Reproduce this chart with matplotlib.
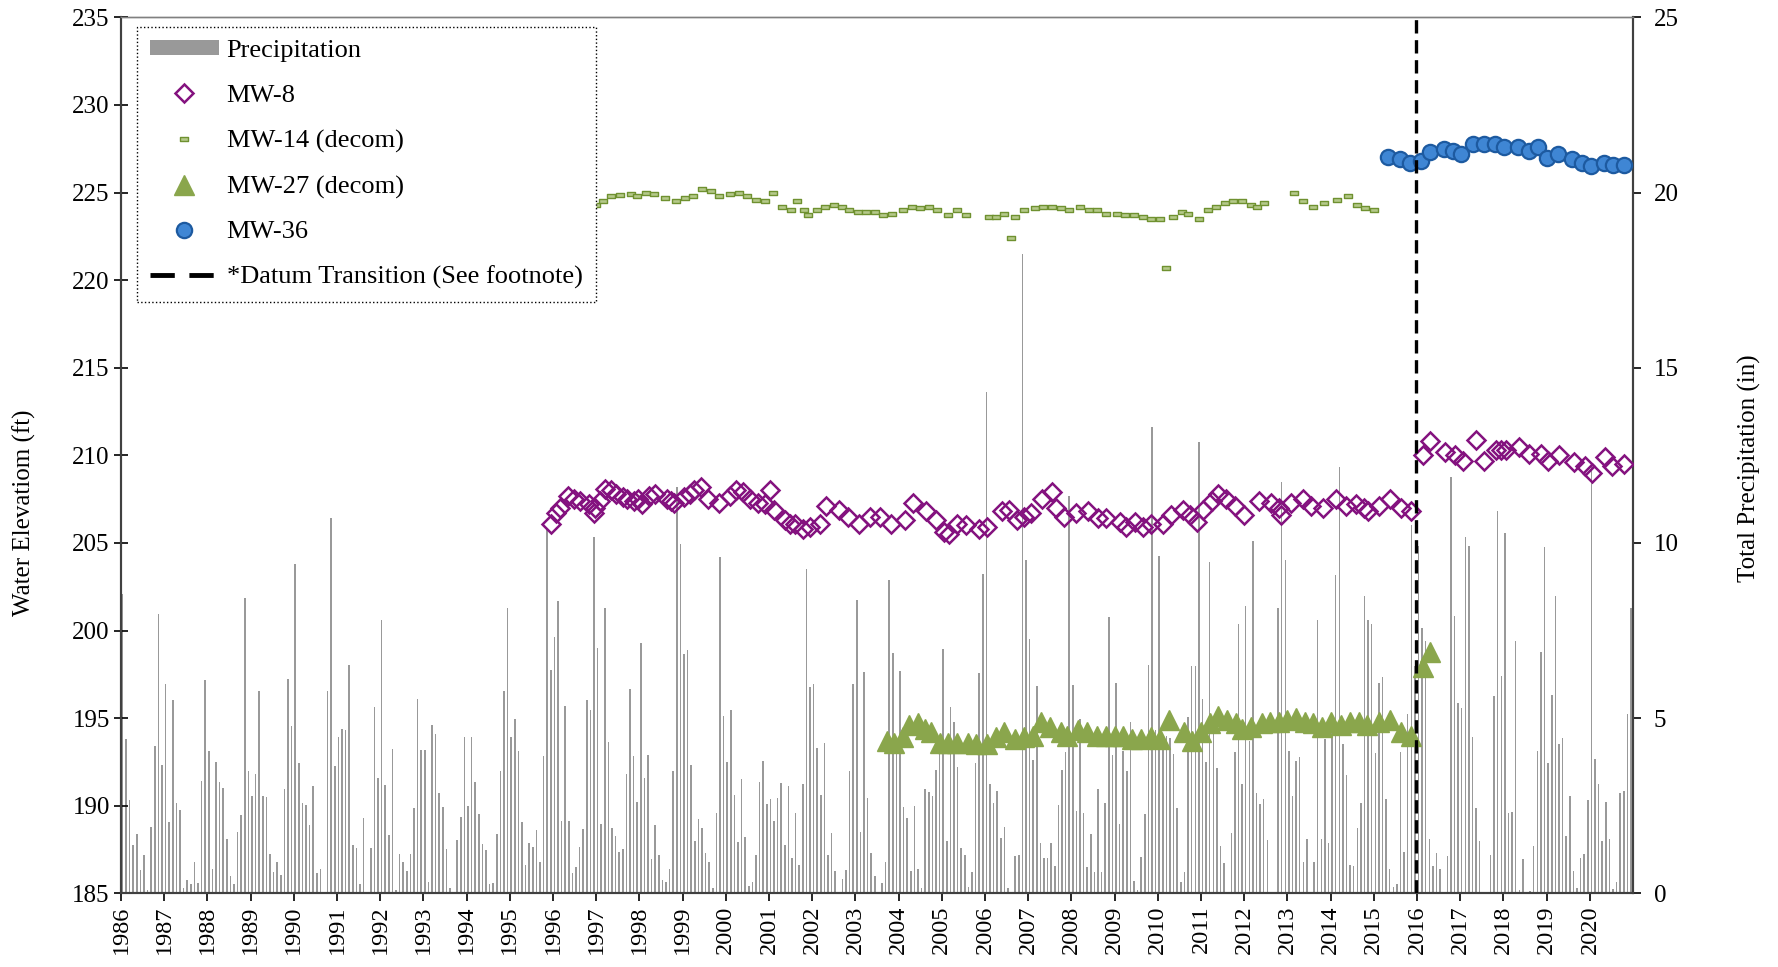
import matplotlib
matplotlib.use("Agg")
import matplotlib.pyplot as plt
import numpy as np
from matplotlib.lines import Line2D
from matplotlib.patches import Patch
from matplotlib.path import Path

plt.rcParams['font.family'] = ['Liberation Serif', 'DejaVu Serif']

### Data ###

years = list(range(1986, 2021))

# monthly precipitation (in), Jan..Dec per year
precip_by_year = {
    1986: [8.55, 4.40, 2.67, 1.37, 1.70, 0.67, 1.10, 0.10, 1.88, 4.21, 7.98, 3.66],
    1987: [5.97, 2.04, 5.52, 2.59, 2.37, 0.14, 0.38, 0.27, 0.90, 0.29, 3.21, 6.10],
    1988: [4.06, 0.70, 3.74, 3.19, 3.00, 1.54, 0.50, 0.27, 1.74, 2.23, 8.43, 3.48],
    1989: [2.78, 3.41, 5.78, 2.78, 2.76, 1.11, 0.62, 0.88, 0.52, 2.97, 6.12, 4.78],
    1990: [9.41, 3.71, 2.57, 2.52, 1.96, 3.05, 0.57, 0.69, 0.05, 5.78, 10.70, 3.62],
    1991: [4.46, 4.68, 4.66, 6.52, 1.38, 1.28, 0.27, 2.16, 0.02, 1.30, 5.32, 3.30],
    1992: [7.81, 3.09, 1.67, 4.11, 0.10, 1.12, 0.88, 0.65, 1.13, 2.44, 5.56, 4.08],
    1993: [4.08, 0.33, 4.80, 4.54, 2.86, 2.47, 1.27, 0.14, 0.02, 1.52, 2.18, 4.47],
    1994: [2.49, 4.47, 3.17, 2.27, 1.41, 1.24, 0.27, 0.29, 1.69, 3.50, 5.78, 8.14],
    1995: [4.47, 4.97, 4.07, 2.04, 0.81, 1.44, 1.32, 1.80, 0.90, 3.92, 10.38, 6.36],
    1996: [7.32, 8.34, 2.05, 5.36, 2.06, 0.59, 0.75, 1.31, 1.84, 5.52, 5.22, 10.17],
    1997: [7.00, 1.97, 8.14, 4.31, 1.86, 1.63, 1.18, 1.26, 3.40, 5.83, 3.92, 2.62],
    1998: [7.14, 3.29, 3.94, 0.97, 1.96, 1.10, 0.38, 0.33, 0.69, 3.48, 11.60, 9.97],
    1999: [6.83, 6.95, 3.65, 1.48, 2.11, 1.85, 1.16, 0.90, 0.15, 2.29, 9.60, 5.06],
    2000: [3.76, 5.24, 2.81, 1.47, 3.27, 1.60, 0.21, 0.31, 1.10, 3.17, 3.78, 2.55],
    2001: [2.70, 2.06, 2.72, 3.15, 1.38, 3.05, 1.01, 2.30, 0.81, 3.11, 9.26, 5.90],
    2002: [5.97, 4.16, 2.81, 4.29, 1.10, 1.71, 0.63, 0.02, 0.41, 0.66, 3.50, 5.97],
    2003: [8.38, 1.75, 6.33, 2.73, 1.14, 0.50, 0.05, 0.30, 0.88, 8.95, 6.86, 3.97],
    2004: [6.35, 2.45, 2.14, 0.65, 2.50, 0.70, 0.15, 2.99, 2.89, 2.78, 3.52, 4.36],
    2005: [6.98, 1.50, 5.31, 4.89, 3.61, 1.30, 1.10, 0.17, 0.62, 3.73, 6.30, 9.10],
    2006: [14.30, 3.12, 2.57, 2.92, 1.59, 1.90, 0.14, 0.02, 1.07, 1.10, 18.25, 9.50],
    2007: [7.27, 3.81, 5.92, 1.43, 1.00, 1.00, 1.43, 0.78, 2.52, 3.52, 4.02, 11.33],
    2008: [5.95, 2.35, 4.98, 2.30, 0.76, 1.70, 0.61, 2.98, 0.61, 2.59, 7.90, 3.96],
    2009: [6.00, 1.97, 4.05, 3.50, 4.89, 0.35, 0.10, 1.03, 2.27, 6.52, 13.30, 4.67],
    2010: [9.63, 4.38, 4.48, 4.43, 3.98, 2.43, 0.33, 0.62, 5.02, 6.50, 6.50, 12.88],
    2011: [5.56, 3.75, 9.47, 5.07, 3.57, 1.35, 0.86, 0.05, 1.71, 4.04, 7.68, 3.12],
    2012: [8.20, 4.34, 10.06, 2.86, 2.54, 2.70, 1.52, 0.02, 0.02, 8.14, 11.75, 9.50],
    2013: [4.05, 2.78, 3.78, 3.89, 0.89, 1.54, 0.05, 0.88, 7.81, 1.54, 4.40, 1.43],
    2014: [4.71, 9.09, 12.16, 4.27, 3.38, 0.80, 0.78, 1.85, 2.59, 8.48, 7.81, 7.69],
    2015: [4.00, 6.00, 6.16, 2.70, 0.69, 0.17, 0.27, 4.04, 1.17, 5.11, 10.50, 6.50],
    2016: [9.90, 7.57, 7.19, 1.54, 0.78, 1.14, 0.70, 0.02, 1.07, 11.89, 7.92, 5.43],
    2017: [5.30, 10.16, 9.92, 4.46, 2.44, 1.50, 0.02, 0.02, 1.10, 5.62, 10.92, 6.19],
    2018: [10.29, 2.29, 2.32, 7.19, 0.10, 0.98, 0.02, 0.07, 1.36, 4.05, 6.89, 9.88],
    2019: [3.73, 5.66, 8.50, 4.27, 4.44, 1.64, 2.79, 0.65, 0.16, 1.01, 1.11, 2.67],
    2020: [12.19, 3.84, 3.12, 1.50, 2.60, 1.54, 0.11, 0.31, 2.86, 2.93, 5.11, 8.14],
}

# MW-8 (ft)
mw8_t = [1995.96, 1996.08, 1996.17, 1996.35, 1996.48, 1996.63, 1996.84, 1996.94, 1996.98,
         1997.10, 1997.20, 1997.35, 1997.45, 1997.61, 1997.71, 1997.87, 1997.97, 1998.06,
         1998.22, 1998.36, 1998.64, 1998.73, 1998.80, 1999.04, 1999.17, 1999.27, 1999.42,
         1999.58, 1999.85, 2000.10, 2000.23, 2000.39, 2000.55, 2000.74, 2000.90, 2001.02,
         2001.11, 2001.36, 2001.48, 2001.60, 2001.79, 2001.96, 2002.17, 2002.32, 2002.63,
         2002.82, 2003.09, 2003.33, 2003.56, 2003.83, 2004.14, 2004.33, 2004.64, 2004.87,
         2005.06, 2005.17, 2005.36, 2005.55, 2005.86, 2006.05, 2006.40, 2006.56, 2006.75,
         2006.91, 2007.06, 2007.33, 2007.55, 2007.64, 2007.83, 2008.10, 2008.38, 2008.61,
         2008.81, 2009.12, 2009.27, 2009.46, 2009.66, 2009.85, 2010.12, 2010.31, 2010.58,
         2010.74, 2010.90, 2011.05, 2011.25, 2011.40, 2011.58, 2011.78, 2012.00, 2012.35,
         2012.62, 2012.81, 2012.85, 2013.08, 2013.35, 2013.55, 2013.82, 2014.13, 2014.36,
         2014.59, 2014.78, 2014.86, 2015.13, 2015.38, 2015.63, 2015.86,
         2016.14, 2016.29, 2016.64, 2016.87, 2017.06, 2017.37, 2017.54, 2017.83, 2017.94,
         2018.05, 2018.36, 2018.59, 2018.86, 2019.02, 2019.28, 2019.63, 2019.88, 2020.05,
         2020.36, 2020.52, 2020.79]
mw8_v = [206.1, 206.7, 207.0, 207.7, 207.5, 207.4, 207.2, 206.7, 207.0,
         207.4, 208.1, 208.0, 207.8, 207.6, 207.5, 207.4, 207.5, 207.2,
         207.7, 207.8, 207.5, 207.4, 207.3, 207.6, 207.8, 208.0, 208.2,
         207.5, 207.3, 207.7, 208.0, 207.9, 207.5, 207.3, 207.2, 208.0,
         206.9, 206.3, 206.1, 206.1, 205.8, 205.9, 206.1, 207.1, 206.9,
         206.5, 206.1, 206.5, 206.5, 206.1, 206.3, 207.3, 206.8, 206.3,
         205.6, 205.5, 206.1, 206.0, 205.8, 205.9, 206.8, 206.9, 206.3,
         206.5, 206.7, 207.5, 207.9, 207.0, 206.5, 206.7, 206.8, 206.4,
         206.4, 206.2, 205.9, 206.2, 205.9, 206.1, 206.1, 206.6, 206.9,
         206.6, 206.2, 206.9, 207.4, 207.8, 207.5, 207.1, 206.6, 207.4,
         207.3, 207.0, 206.6, 207.3, 207.5, 207.1, 207.0, 207.5, 207.1,
         207.2, 207.0, 206.8, 207.1, 207.5, 207.0, 206.8,
         210.0, 210.8, 210.2, 210.0, 209.7, 210.9, 209.7, 210.3, 210.3,
         210.3, 210.5, 210.1, 210.1, 209.7, 210.0, 209.6, 209.4, 209.0,
         209.9, 209.4, 209.5]

# MW-14 (decom) (ft)
mw14_t = [1997.00, 1997.15, 1997.35, 1997.55, 1997.80, 1997.95, 1998.15, 1998.35, 1998.60,
          1998.85, 1999.05, 1999.25, 1999.45, 1999.65, 1999.85, 2000.10, 2000.30, 2000.50,
          2000.70, 2000.90, 2001.10, 2001.30, 2001.50, 2001.65, 2001.80, 2001.90, 2002.10,
          2002.30, 2002.50, 2002.70, 2002.85, 2003.05, 2003.25, 2003.45, 2003.65, 2003.85,
          2004.10, 2004.30, 2004.50, 2004.70, 2004.90, 2005.15, 2005.35, 2005.55, 2006.10,
          2006.25, 2006.45, 2006.60, 2006.70, 2006.90, 2007.15, 2007.35, 2007.55, 2007.75,
          2007.95, 2008.20, 2008.40, 2008.60, 2008.80, 2009.05, 2009.25, 2009.45, 2009.65,
          2009.85, 2010.05, 2010.20, 2010.35, 2010.55, 2010.70, 2010.95, 2011.15, 2011.35,
          2011.55, 2011.75, 2011.95, 2012.15, 2012.30, 2012.45, 2013.15, 2013.35, 2013.60,
          2013.85, 2014.15, 2014.40, 2014.60, 2014.80, 2015.00]
mw14_v = [224.3, 224.5, 224.8, 224.85, 224.9, 224.8, 225.0, 224.9, 224.7,
          224.5, 224.7, 224.8, 225.2, 225.1, 224.8, 224.9, 225.0, 224.8,
          224.6, 224.5, 225.0, 224.2, 224.0, 224.5, 224.0, 223.7, 224.0,
          224.2, 224.3, 224.2, 224.0, 223.9, 223.9, 223.9, 223.7, 223.8,
          224.0, 224.2, 224.1, 224.2, 224.0, 223.7, 224.0, 223.7, 223.6,
          223.6, 223.8, 222.4, 223.6, 224.0, 224.1, 224.2, 224.2, 224.1,
          224.0, 224.2, 224.0, 224.0, 223.8, 223.8, 223.7, 223.7, 223.6,
          223.5, 223.5, 220.7, 223.6, 223.9, 223.8, 223.5, 224.0, 224.2,
          224.4, 224.5, 224.5, 224.3, 224.2, 224.4, 225.0, 224.5, 224.2,
          224.4, 224.6, 224.8, 224.3, 224.1, 224.0]

# MW-27 (decom) (ft)
mw27_t = [2003.73, 2003.90, 2004.10, 2004.25, 2004.45, 2004.60, 2004.75, 2004.95, 2005.15,
          2005.35, 2005.60, 2005.80, 2006.05, 2006.25, 2006.45, 2006.70, 2006.90, 2007.10,
          2007.30, 2007.50, 2007.75, 2007.90, 2008.15, 2008.35, 2008.60, 2008.80, 2009.00,
          2009.20, 2009.40, 2009.60, 2009.85, 2010.05, 2010.25, 2010.60, 2010.80, 2011.00,
          2011.20, 2011.40, 2011.60, 2011.80, 2011.95, 2012.15, 2012.40, 2012.60, 2012.80,
          2013.00, 2013.20, 2013.40, 2013.60, 2013.80, 2014.00, 2014.25, 2014.45, 2014.65,
          2014.85, 2015.13, 2015.38, 2015.63, 2015.86, 2016.14, 2016.29]
mw27_v = [193.7, 193.6, 193.9, 194.6, 194.75, 194.4, 194.2, 193.6, 193.6,
          193.6, 193.6, 193.5, 193.5, 193.9, 194.2, 193.8, 193.9, 194.0,
          194.8, 194.5, 194.2, 194.0, 194.3, 194.2, 194.0, 194.0, 194.0,
          194.0, 193.8, 193.8, 193.9, 193.8, 194.9, 194.2, 193.7, 194.2,
          194.7, 195.1, 194.9, 194.7, 194.4, 194.5, 194.7, 194.8, 194.8,
          194.9, 195.0, 194.8, 194.7, 194.5, 194.8, 194.6, 194.8, 194.8,
          194.6, 194.8, 194.9, 194.2, 194.0, 197.9, 198.75]

# MW-36 (ft)
mw36_t = [2015.33, 2015.60, 2015.84, 2016.10, 2016.29, 2016.63, 2016.84, 2017.02, 2017.30,
          2017.55, 2017.80, 2018.02, 2018.33, 2018.60, 2018.80, 2019.00, 2019.27, 2019.58,
          2019.82, 2020.03, 2020.32, 2020.53, 2020.79]
mw36_v = [227.06, 226.9, 226.7, 226.8, 227.3, 227.5, 227.4, 227.2, 227.8,
          227.8, 227.8, 227.6, 227.6, 227.4, 227.6, 227.0, 227.2, 226.9,
          226.7, 226.5, 226.7, 226.6, 226.6]

datum_year = 2015.97

### Plot ###

month_x = []
month_p = []
for y in years:
    for m, p in enumerate(precip_by_year[y]):
        month_x.append(y + (m + 0.4) / 12.0)
        month_p.append(p)

fig = plt.figure(figsize=(17.78, 9.67), dpi=100)
ax = fig.add_axes([0.068, 0.0762, 0.8505, 0.9058])
ax2 = ax.twinx()

ax2.bar(month_x, month_p, width=0.036, color='#999999', linewidth=0)
ax2.set_ylim(0, 25)
ax2.set_yticks(np.arange(0, 26, 5))

ax.set_zorder(ax2.get_zorder() + 1)
ax.patch.set_visible(False)

# thin dash marker for MW-14
dash_marker = Path([[-1, -0.45], [1, -0.45], [1, 0.45], [-1, 0.45], [-1, -0.45]],
                   [Path.MOVETO, Path.LINETO, Path.LINETO, Path.LINETO, Path.CLOSEPOLY])

ax.plot(mw14_t, mw14_v, ls='none', marker=dash_marker, ms=6, mfc='#b5c98a',
        mec='#6f9130', mew=1.0, zorder=3)
ax.plot(mw27_t, mw27_v, ls='none', marker='^', ms=14, mfc='#8aa64c',
        mec='#8aa64c', zorder=3)
ax.plot(mw8_t, mw8_v, ls='none', marker='D', ms=9, mfc='none',
        mec='#84127f', mew=1.8, zorder=4)
ax.plot(mw36_t, mw36_v, ls='none', marker='o', ms=11, mfc='#3f86d4',
        mec='#1d5aa0', mew=1.6, zorder=4)
ax.axvline(datum_year, color='black', lw=2.4, ls=(0, (4, 2)), zorder=6)

ax.set_xlim(1986, 2021)
ax.set_ylim(185, 235)
ax.set_yticks(np.arange(185, 236, 5))
ax.set_xticks(years)
ax.set_xticklabels([str(y) for y in years], rotation=90)

ax.tick_params(axis='x', labelsize=17.5, length=6, width=1.2, pad=3)
ax.tick_params(axis='y', labelsize=18, direction='inout', length=10, width=1.2, pad=3)
ax2.tick_params(axis='y', labelsize=18, length=6, width=1.2, pad=9)

for a in (ax, ax2):
    a.spines['left'].set_color('#404040')
    a.spines['left'].set_linewidth(1.5)
    a.spines['right'].set_color('#404040')
    a.spines['right'].set_linewidth(1.5)
    a.spines['bottom'].set_color('#404040')
    a.spines['bottom'].set_linewidth(1.5)
    a.spines['top'].set_color('#808080')
    a.spines['top'].set_linewidth(1.0)

ax.set_ylabel('Water Elevatiom (ft)', fontsize=18)
ax.yaxis.set_label_coords(-0.056, 0.435)
ax2.set_ylabel('Total Precipitation (in)', fontsize=18)
ax2.yaxis.set_label_coords(1.069, 0.485)

handles = [
    Patch(facecolor='#999999', edgecolor='none', label='Precipitation'),
    Line2D([], [], ls='none', marker='D', ms=9, mfc='none', mec='#84127f', mew=1.8, label='MW-8'),
    Line2D([], [], ls='none', marker=dash_marker, ms=6, mfc='#b5c98a', mec='#6f9130', mew=1.0,
           label='MW-14 (decom)'),
    Line2D([], [], ls='none', marker='^', ms=14, mfc='#8aa64c', mec='#8aa64c', label='MW-27 (decom)'),
    Line2D([], [], ls='none', marker='o', ms=11, mfc='#3f86d4', mec='#1d5aa0', mew=1.6, label='MW-36'),
    Line2D([], [], color='black', lw=3.5, ls=(0, (5, 3)), label='*Datum Transition (See footnote)'),
]
leg = ax.legend(handles=handles, loc='upper left', bbox_to_anchor=(0.0106, 0.989),
                borderaxespad=0, fontsize=19, handlelength=2.6, handleheight=0.5,
                labelspacing=0.86, borderpad=0.5, handletextpad=0.3,
                fancybox=False, framealpha=1)
leg.get_frame().set_edgecolor('black')
leg.get_frame().set_linestyle(':')
leg.get_frame().set_linewidth(1.0)
leg.set_zorder(10)

fig.savefig('out.png', dpi=100)
